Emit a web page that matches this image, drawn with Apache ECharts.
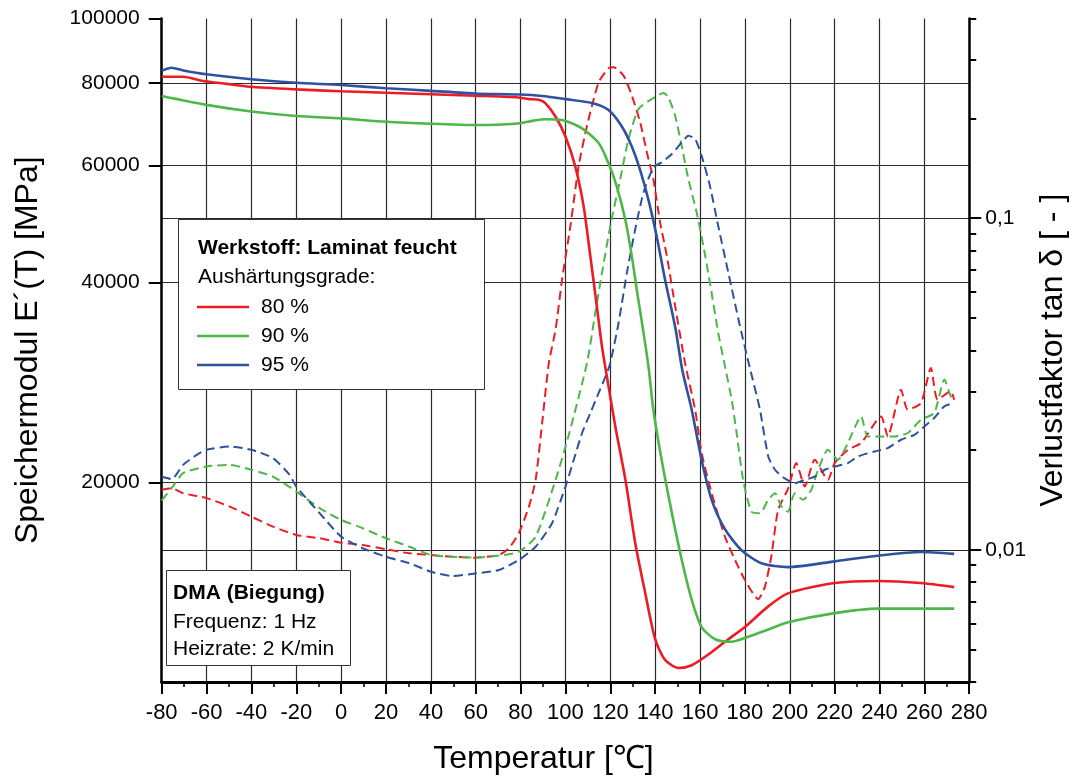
<!DOCTYPE html>
<html>
<head>
<meta charset="UTF-8" />
<title>DMA Laminat feucht</title>
<script src="https://cdn.jsdelivr.net/npm/echarts@6/dist/echarts.min.js"></script>
</head>
<body style="margin:0;background:#fff">
<div id="main" style="width:1077px;height:780px;"></div>
<script>
// Speichermodul E'(T) [MPa], pairs [Temperatur, E']
var modul80 = [[-80,81700],[-70.4,81700],[-61.5,80500],[-51.1,79700],[-40.8,78900],[-20,78200],[0,77700],[20,77300],[40,76900],[59.7,76500],[77.8,76100],[83.7,75600],[88.1,75400],[91.1,74500],[95.6,71100],[100,66400],[104.4,59800],[108.1,52100],[111.1,43800],[114,36800],[116.3,32000],[119.2,27900],[122.2,24300],[126.7,20200],[131.1,16200],[135.6,13600],[140,11600],[144.4,10800],[150.4,10500],[156.3,10600],[163.7,11000],[172.6,11600],[180,12100],[190.4,13000],[199.2,13600],[220,14100],[239.2,14200],[258.4,14100],[273.3,13900]];
var modul90 = [[-80,76400],[-60,74100],[-40,72400],[-20,71300],[0,70700],[20,69900],[40,69400],[59.7,69100],[77.8,69400],[85.2,70100],[91.1,70500],[98.5,70300],[107.4,68300],[114.8,64900],[119.2,60500],[122.9,55800],[126.7,49700],[129.6,43800],[131.8,39000],[134.8,33600],[137,29900],[139.2,25700],[142.9,21600],[147.4,18000],[151.8,15300],[156.3,13300],[160.7,12100],[166.7,11600],[174,11500],[181.5,11700],[190.4,12000],[199.2,12300],[220,12700],[239.2,12900],[258.5,12900],[273.3,12900]];
var modul95 = [[-80,83400],[-75.6,84300],[-70.4,83500],[-60,82400],[-40,81000],[-20,80000],[0,79400],[20,78500],[40,77800],[59.7,77100],[79.7,76800],[89.6,76400],[100,75600],[111.8,74600],[119.2,72800],[125.2,68700],[129.6,64100],[133.3,59100],[137,53300],[140.7,46900],[144.4,40400],[148.9,34300],[152.1,29500],[156.3,25700],[160.7,21600],[165.2,18800],[171.1,17000],[178.5,15800],[187.4,15100],[199.2,14900],[220,15200],[239.2,15500],[258.5,15700],[273.3,15600]];

// Verlustfaktor tan delta, pairs [Temperatur, tan d]
var tan80 = [[-80,0.01518],[-75.6,0.01536],[-70.4,0.01483],[-60,0.01433],[-49.6,0.01351],[-40,0.0126],[-30.4,0.01176],[-20,0.0111],[-9.6,0.01085],[0,0.01052],[9.6,0.01035],[20,0.01005],[30.4,0.00977],[40,0.00966],[49.6,0.00954],[59.7,0.00948],[70.4,0.00966],[74.8,0.01012],[79.2,0.01123],[83.7,0.01351],[86.7,0.01627],[89.6,0.02414],[92.6,0.03664],[95.6,0.04622],[98.5,0.06542],[102.2,0.0948],[105.9,0.1439],[109.6,0.19],[114.8,0.257],[119.2,0.2834],[121.5,0.2853],[125.9,0.2691],[129.6,0.2342],[133.3,0.1945],[136.3,0.1579],[139.2,0.1311],[142.2,0.09705],[145.2,0.07694],[148.9,0.05433],[153.3,0.03664],[157.8,0.02649],[160.7,0.01959],[165.2,0.01483],[171.1,0.01097],[175.6,0.00933],[180,0.00812],[185.9,0.00711],[188.9,0.00774],[191.8,0.00959],[194.8,0.01321],[199.2,0.01529],[202.9,0.01828],[206.7,0.01553],[211.1,0.0187],[217,0.01627],[220,0.01828],[225.9,0.02004],[231.8,0.02101],[240.7,0.02527],[243.7,0.02199],[249.6,0.03043],[252.6,0.02649],[258.5,0.02774],[262.9,0.03539],[265.9,0.02839],[271.8,0.03007],[273.3,0.02839]];
var tan90 = [[-80,0.0141],[-75.6,0.01536],[-70.4,0.01705],[-60,0.01785],[-49.6,0.01806],[-40,0.01745],[-30.4,0.01665],[-20,0.015],[-9.6,0.01337],[0,0.01232],[9.6,0.01163],[20,0.01085],[30.4,0.01023],[40,0.00966],[49.6,0.00954],[59.7,0.00948],[70.4,0.00962],[79.2,0.00988],[86.7,0.01097],[95.6,0.01627],[101.5,0.02225],[109.6,0.03664],[113.3,0.05189],[116.3,0.06855],[120,0.0948],[124.4,0.1311],[128.1,0.1733],[132.6,0.2135],[138.5,0.2288],[143.7,0.2386],[145.9,0.2315],[148.9,0.2037],[151.8,0.1653],[154.8,0.1311],[158.5,0.104],[161.5,0.08246],[164.4,0.06394],[168.1,0.04516],[171.1,0.03579],[174.1,0.02839],[176.1,0.02304],[179.2,0.01627],[182.9,0.01305],[186.7,0.01291],[190.4,0.01416],[193.4,0.01483],[196.3,0.01351],[199.2,0.01305],[202.2,0.01483],[205.9,0.01416],[209.6,0.01518],[212.6,0.01745],[217,0.02004],[221.5,0.0187],[225.9,0.02101],[231.8,0.02527],[234.8,0.02199],[240.7,0.02199],[246.7,0.02199],[252.6,0.02252],[258.5,0.0247],[264.4,0.02588],[268.9,0.03263],[271.8,0.02905],[273.3,0.02839]];
var tan95 = [[-80,0.01665],[-75.6,0.01635],[-70.4,0.01806],[-64.4,0.01936],[-60,0.02004],[-49.6,0.02051],[-40,0.02004],[-30.4,0.01892],[-23,0.01685],[-20,0.01553],[-9.6,0.01291],[0,0.01097],[9.6,0.01012],[20,0.00954],[30.4,0.00912],[40,0.0086],[49.6,0.00834],[59.7,0.0085],[70.4,0.0087],[79.2,0.00933],[86.7,0.01023],[94,0.01204],[100,0.01553],[103.7,0.0187],[107.4,0.02252],[111.1,0.02588],[114.8,0.02974],[118.5,0.03418],[120,0.03664],[123.7,0.04842],[127.4,0.06855],[131.1,0.09264],[134.8,0.1196],[139.2,0.1423],[142.9,0.1473],[147.4,0.1561],[151.8,0.1693],[154.8,0.1773],[157.8,0.1733],[160.7,0.1542],[164.4,0.1252],[168.1,0.0948],[172.6,0.06855],[177.8,0.04727],[182.2,0.03539],[186.7,0.02649],[190.4,0.01913],[193.4,0.01745],[197.6,0.01646],[202.2,0.0159],[206.7,0.01627],[211.1,0.01665],[215.6,0.01745],[220,0.01785],[225.9,0.01828],[230.4,0.01913],[237.8,0.01982],[243.7,0.02029],[249.6,0.02149],[255.6,0.02225],[260,0.02357],[264.4,0.02499],[268.9,0.0271],[273.3,0.02774]];

// Achsen
var modulTicks = [20000, 40000, 60000, 80000, 100000];
var modulGrid = [20000, 40000, 60000, 80000];
var tanTicks = [0.01, 0.1];
var tanMinor = [0.004, 0.005, 0.006, 0.007, 0.008, 0.009, 0.02, 0.03, 0.04, 0.05, 0.06, 0.07, 0.08, 0.09, 0.2, 0.3, 0.4];
var gradeNames = ['80 %', '90 %', '95 %'];
var gradeColors = ['#ED1C24', '#4DB848', '#2E52A0'];

var font = "'Liberation Sans', Arial, Helvetica, sans-serif";

function lg(arr) {
    return arr.map(function (v) { return Math.log10(v); });
}
function toLog(arr) {
    return arr.map(function (p) { return [p[0], Math.log10(p[1])]; });
}

var chart = echarts.init(document.getElementById('main'));

var solid = [modul80, modul90, modul95];
var dashed = [tan80, tan90, tan95];
var series = [];
solid.forEach(function (d, i) {
    series.push({
        name: 'E ' + gradeNames[i], type: 'line', xAxisIndex: 0, yAxisIndex: 0,
        data: toLog(d), showSymbol: false, smooth: 0.25, z: 3,
        lineStyle: {color: gradeColors[i], width: 2.6}
    });
});
dashed.forEach(function (d, i) {
    series.push({
        name: 'tan ' + gradeNames[i], type: 'line', xAxisIndex: 0, yAxisIndex: 1,
        data: toLog(d), showSymbol: false, smooth: 0.2, z: 2,
        lineStyle: {color: gradeColors[i], width: 2, type: [9, 5]}
    });
});

// Legendenkasten
var graphic = [
    {type: 'rect', shape: {x: 178.5, y: 219.5, width: 306, height: 170}, style: {fill: '#fff', stroke: '#333', lineWidth: 1}, z: 10},
    {type: 'text', x: 198, y: 248.5, style: {text: 'Werkstoff: Laminat feucht', font: 'bold 21px ' + font, fill: '#000', verticalAlign: 'middle'}, z: 11},
    {type: 'text', x: 198, y: 277.5, style: {text: 'Aushärtungsgrade:', font: '21px ' + font, fill: '#000', verticalAlign: 'middle'}, z: 11},
    {type: 'rect', shape: {x: 166.5, y: 570.5, width: 184, height: 95}, style: {fill: '#fff', stroke: '#333', lineWidth: 1}, z: 10},
    {type: 'text', x: 173, y: 593.5, style: {text: 'DMA (Biegung)', font: 'bold 21px ' + font, fill: '#000', verticalAlign: 'middle'}, z: 11},
    {type: 'text', x: 173, y: 622.5, style: {text: 'Frequenz: 1 Hz', font: '21px ' + font, fill: '#000', verticalAlign: 'middle'}, z: 11},
    {type: 'text', x: 173, y: 649.5, style: {text: 'Heizrate: 2 K/min', font: '21px ' + font, fill: '#000', verticalAlign: 'middle'}, z: 11}
];
gradeNames.forEach(function (n, i) {
    var y = 307 + i * 29;
    graphic.push({type: 'line', shape: {x1: 197, y1: y, x2: 249, y2: y}, style: {stroke: gradeColors[i], lineWidth: 2.6}, z: 11});
    graphic.push({type: 'text', x: 261, y: y, style: {text: n, font: '21px ' + font, fill: '#000', verticalAlign: 'middle'}, z: 11});
});

var option = {
    animation: false,
    backgroundColor: '#fff',
    textStyle: {fontFamily: font},
    grid: {left: 161.7, right: 105.3, top: 18.5, bottom: 97},
    xAxis: {
        type: 'value', min: -80, max: 280, interval: 20,
        name: 'Temperatur [℃]', nameLocation: 'middle', nameGap: 61,
        nameTextStyle: {fontSize: 32, color: '#000', fontFamily: font, padding: [0, 44, 0, 0]},
        axisLine: {onZero: false, lineStyle: {color: '#000', width: 3}},
        axisTick: {length: 12, lineStyle: {color: '#000', width: 2}},
        minorTick: {show: true, splitNumber: 2, length: 5, lineStyle: {color: '#000', width: 1.5}},
        axisLabel: {fontSize: 22, color: '#000', margin: 20, fontFamily: font},
        splitLine: {show: true, lineStyle: {color: '#2a2a2a', width: 1.2}}
    },
    yAxis: [
        {
            type: 'value', position: 'left', min: 4, max: 5,
            name: 'Speichermodul E´(T) [MPa]', nameLocation: 'middle', nameGap: 118, nameRotate: 90,
            nameTextStyle: {fontSize: 32, color: '#000', fontFamily: font},
            axisLine: {show: true, onZero: false, lineStyle: {color: '#000', width: 2.5}},
            axisTick: {show: true, length: 13, customValues: lg(modulTicks), lineStyle: {color: '#000', width: 2}},
            axisLabel: {fontSize: 21, color: '#000', margin: 22, customValues: lg(modulTicks), fontFamily: font,
                formatter: function (v) { return String(Math.round(Math.pow(10, v))); }},
            splitLine: {show: false}
        },
        {
            type: 'value', position: 'right', min: Math.log10(0.004), max: Math.log10(0.4),
            name: 'Verlustfaktor tan δ [ - ]', nameLocation: 'middle', nameGap: 66, nameRotate: 90,
            nameTextStyle: {fontSize: 32, color: '#000', fontFamily: font},
            axisLine: {show: true, onZero: false, lineStyle: {color: '#000', width: 2.5}},
            axisTick: {show: true, length: 12, customValues: lg(tanTicks), lineStyle: {color: '#000', width: 2}},
            axisLabel: {fontSize: 21, color: '#000', margin: 16, customValues: lg(tanTicks), fontFamily: font,
                formatter: function (v) { return String(Math.round(Math.pow(10, v) * 1000) / 1000).replace('.', ','); }},
            splitLine: {show: true, lineStyle: {color: '#2a2a2a', width: 1.2}}
        },
        {
            type: 'value', position: 'left', min: 4, max: 5,
            axisLine: {show: false, onZero: false},
            axisTick: {show: false, customValues: lg(modulGrid)},
            axisLabel: {show: false},
            splitLine: {show: true, lineStyle: {color: '#2a2a2a', width: 1.2}}
        },
        {
            type: 'value', position: 'right', min: Math.log10(0.004), max: Math.log10(0.4),
            axisLine: {show: false, onZero: false},
            axisTick: {show: true, length: 7, customValues: lg(tanMinor), lineStyle: {color: '#000', width: 2}},
            axisLabel: {show: false},
            splitLine: {show: false}
        }
    ],
    graphic: graphic,
    series: series
};

chart.setOption(option);
</script>
</body>
</html>
